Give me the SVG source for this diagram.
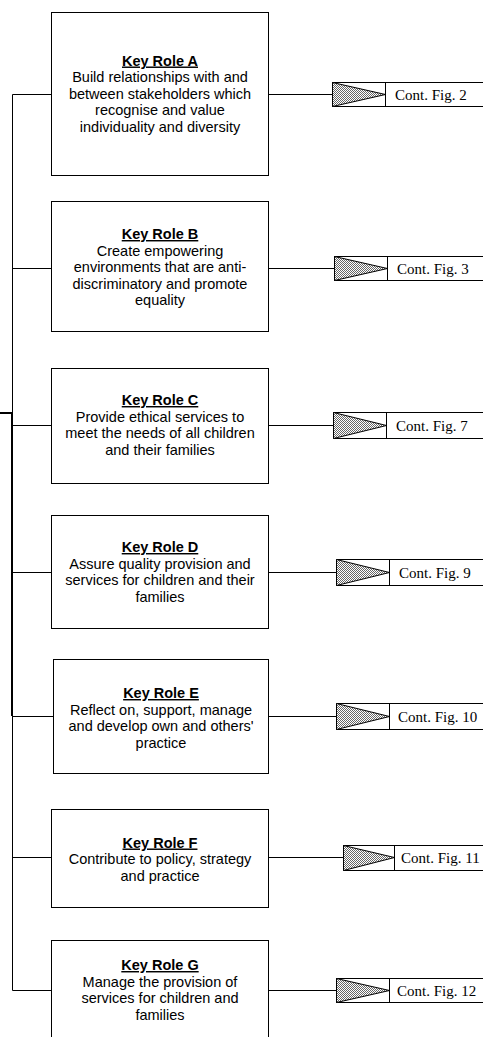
<svg xmlns="http://www.w3.org/2000/svg" width="483" height="1037" viewBox="0 0 483 1037">
  <defs>
    <pattern id="stipple" width="2" height="2" patternUnits="userSpaceOnUse">
      <rect width="2" height="2" fill="#ffffff"/>
      <rect width="1" height="1" fill="#666666"/>
      <rect x="1" y="1" width="1" height="1" fill="#666666"/>
    </pattern>
    <style>
      .box { fill: #ffffff; stroke: #000000; stroke-width: 1; }
      .line { fill: none; stroke: #000000; stroke-width: 1; }
      .thick { fill: none; stroke: #000000; stroke-width: 2; }
      .role { font-family: "Liberation Sans", Arial, sans-serif; font-size: 14.5px; fill: #000000; text-anchor: middle; }
      .head { font-weight: bold; text-decoration: underline; }
      .ref { font-family: "Liberation Serif", "Times New Roman", serif; font-size: 15px; fill: #000000; }
      .tri { fill: url(#stipple); stroke: #000000; stroke-width: 1; }
    </style>
  </defs>
  <rect width="483" height="1037" fill="#ffffff"/>

  <!-- connectors: spine on the left, branches to each role, links to continuation tabs -->
  <g id="connectors">
    <path class="line" d="M12.5 94.5 V990.5"/>
    <path class="thick" d="M0 413 H12 M12 412 V716"/>
    <path class="line" d="M12.5 94.5 H51.5"/>
    <path class="line" d="M12.5 268.5 H51.5"/>
    <path class="line" d="M12.5 425.5 H51.5"/>
    <path class="line" d="M12.5 572.5 H51.5"/>
    <path class="line" d="M12.5 716.5 H53.5"/>
    <path class="line" d="M12.5 857.5 H51.5"/>
    <path class="line" d="M12.5 990.5 H51.5"/>
    <path class="line" d="M268.5 94.5 H332.5"/>
    <path class="line" d="M268.5 268.5 H334.5"/>
    <path class="line" d="M268.5 425.5 H333.5"/>
    <path class="line" d="M268.5 572.5 H336.5"/>
    <path class="line" d="M268.5 716.5 H336.5"/>
    <path class="line" d="M268.5 857.5 H343.5"/>
    <path class="line" d="M268.5 990.5 H336.5"/>
  </g>

  <g id="role-a">
    <rect class="box" x="51.5" y="12.5" width="217" height="163"/>
    <text class="role"><tspan class="head" x="160" y="65.5">Key Role A</tspan><tspan x="160" y="82">Build relationships with and</tspan><tspan x="160" y="98.5">between stakeholders which</tspan><tspan x="160" y="115">recognise and value</tspan><tspan x="160" y="131.5">individuality and diversity</tspan></text>
  </g>
  <g id="cont-a">
    <rect class="box" x="332.5" y="82.5" width="160" height="24"/>
    <path class="tri" d="M332.5 82.5 L385.5 94.5 L332.5 106.5 Z"/>
    <path class="line" d="M385.5 82.5 V106.5"/>
    <text class="ref" x="395" y="99.5">Cont. Fig. 2</text>
  </g>

  <g id="role-b">
    <rect class="box" x="51.5" y="201.5" width="217" height="130"/>
    <text class="role"><tspan class="head" x="160" y="239">Key Role B</tspan><tspan x="160" y="255.5">Create empowering</tspan><tspan x="160" y="272">environments that are anti-</tspan><tspan x="160" y="288.5">discriminatory and promote</tspan><tspan x="160" y="305">equality</tspan></text>
  </g>
  <g id="cont-b">
    <rect class="box" x="334.5" y="256.5" width="160" height="24"/>
    <path class="tri" d="M334.5 256.5 L387.5 268.5 L334.5 280.5 Z"/>
    <path class="line" d="M387.5 256.5 V280.5"/>
    <text class="ref" x="397" y="273.5">Cont. Fig. 3</text>
  </g>

  <g id="role-c">
    <rect class="box" x="51.5" y="368.5" width="217" height="115"/>
    <text class="role"><tspan class="head" x="160" y="405">Key Role C</tspan><tspan x="160" y="421.5">Provide ethical services to</tspan><tspan x="160" y="438">meet the needs of all children</tspan><tspan x="160" y="454.5">and their families</tspan></text>
  </g>
  <g id="cont-c">
    <rect class="box" x="333.5" y="412.5" width="160" height="26"/>
    <path class="tri" d="M333.5 412.5 L386.5 425.5 L333.5 438.5 Z"/>
    <path class="line" d="M386.5 412.5 V438.5"/>
    <text class="ref" x="396" y="430.5">Cont. Fig. 7</text>
  </g>

  <g id="role-d">
    <rect class="box" x="51.5" y="515.5" width="217" height="113"/>
    <text class="role"><tspan class="head" x="160" y="552">Key Role D</tspan><tspan x="160" y="568.5">Assure quality provision and</tspan><tspan x="160" y="585">services for children and their</tspan><tspan x="160" y="601.5">families</tspan></text>
  </g>
  <g id="cont-d">
    <rect class="box" x="336.5" y="559.5" width="160" height="26"/>
    <path class="tri" d="M336.5 559.5 L389.5 572.5 L336.5 585.5 Z"/>
    <path class="line" d="M389.5 559.5 V585.5"/>
    <text class="ref" x="399" y="577.5">Cont. Fig. 9</text>
  </g>

  <g id="role-e">
    <rect class="box" x="53.5" y="659.5" width="215" height="114"/>
    <text class="role"><tspan class="head" x="161" y="698">Key Role E</tspan><tspan x="161" y="714.5">Reflect on, support, manage</tspan><tspan x="161" y="731">and develop own and others'</tspan><tspan x="161" y="747.5">practice</tspan></text>
  </g>
  <g id="cont-e">
    <rect class="box" x="336.5" y="703.5" width="160" height="26"/>
    <path class="tri" d="M336.5 703.5 L389.5 716.5 L336.5 729.5 Z"/>
    <path class="line" d="M389.5 703.5 V729.5"/>
    <text class="ref" x="398" y="721.5">Cont. Fig. 10</text>
  </g>

  <g id="role-f">
    <rect class="box" x="51.5" y="809.5" width="217" height="98"/>
    <text class="role"><tspan class="head" x="160" y="847.5">Key Role F</tspan><tspan x="160" y="864">Contribute to policy, strategy</tspan><tspan x="160" y="880.5">and practice</tspan></text>
  </g>
  <g id="cont-f">
    <rect class="box" x="343.5" y="845.5" width="160" height="25"/>
    <path class="tri" d="M343.5 845.5 L394.5 857.5 L343.5 870.5 Z"/>
    <path class="line" d="M394.5 845.5 V870.5"/>
    <text class="ref" x="401" y="863">Cont. Fig. 11</text>
  </g>

  <g id="role-g">
    <rect class="box" x="51.5" y="940.5" width="217" height="110"/>
    <text class="role"><tspan class="head" x="160" y="970">Key Role G</tspan><tspan x="160" y="986.5">Manage the provision of</tspan><tspan x="160" y="1003">services for children and</tspan><tspan x="160" y="1019.5">families</tspan></text>
  </g>
  <g id="cont-g">
    <rect class="box" x="336.5" y="978.5" width="160" height="24"/>
    <path class="tri" d="M336.5 978.5 L389.5 990.5 L336.5 1002.5 Z"/>
    <path class="line" d="M389.5 978.5 V1002.5"/>
    <text class="ref" x="397" y="995.5">Cont. Fig. 12</text>
  </g>
</svg>
